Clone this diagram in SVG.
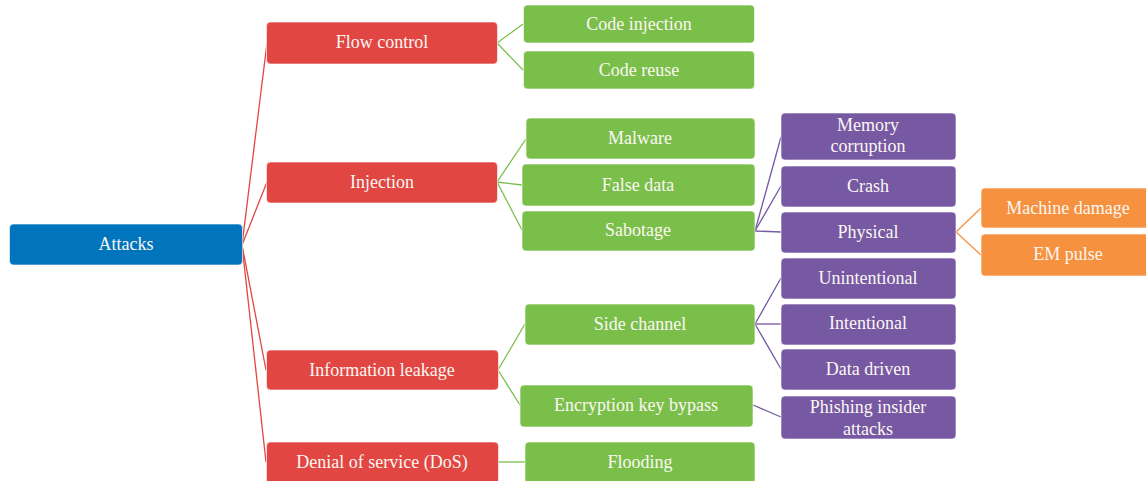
<svg xmlns="http://www.w3.org/2000/svg" width="1146" height="481" viewBox="0 0 1146 481">
<style>
.n rect{stroke:#ffffff;stroke-opacity:0.6;stroke-width:1}
.b rect{fill:#0074BD}
.r rect{fill:#E24642}
.g rect{fill:#7BBF4B}
.p rect{fill:#7658A3}
.o rect{fill:#F5913F}
text{font-family:"Liberation Serif","Times New Roman",serif;font-size:18px;fill:#FBF7F2;text-anchor:middle}
.c line{stroke-width:1.3;fill:none}
.cr line{stroke:#E24642}
.cg line{stroke:#7BBF4B}
.cp line{stroke:#7658A3}
.co line{stroke:#F5913F}
</style>
<rect width="1146" height="481" fill="#ffffff"/>
<g id="connectors" class="c">
<g class="cr">
<line x1="242" y1="245" x2="267" y2="43"/>
<line x1="242" y1="245" x2="267" y2="182"/>
<line x1="242" y1="245" x2="266" y2="370"/>
<line x1="242" y1="245" x2="266" y2="462"/>
</g>
<g class="cg">
<line x1="497" y1="43" x2="523" y2="24"/>
<line x1="497" y1="43" x2="523" y2="70"/>
<line x1="497" y1="182" x2="526" y2="139"/>
<line x1="497" y1="182" x2="522" y2="185"/>
<line x1="497" y1="182" x2="522" y2="230"/>
<line x1="498" y1="370" x2="525" y2="324"/>
<line x1="498" y1="370" x2="520" y2="405"/>
<line x1="498" y1="462" x2="525" y2="462"/>
</g>
<g class="cp">
<line x1="755" y1="231" x2="781" y2="137"/>
<line x1="755" y1="231" x2="781" y2="186"/>
<line x1="755" y1="231" x2="781" y2="232"/>
<line x1="755" y1="324" x2="781" y2="278"/>
<line x1="755" y1="324" x2="781" y2="324"/>
<line x1="755" y1="324" x2="781" y2="369"/>
<line x1="753" y1="405" x2="781" y2="417"/>
</g>
<g class="co">
<line x1="956" y1="232" x2="981" y2="208"/>
<line x1="956" y1="232" x2="981" y2="255"/>
</g>
</g>
<g id="attacks" class="n b"><rect x="9.5" y="224" width="233" height="41" rx="4"/><text x="126" y="250">Attacks</text></g>
<g id="flow-control" class="n r"><rect x="266.5" y="22" width="231" height="42" rx="4"/><text x="382" y="48">Flow control</text></g>
<g id="injection" class="n r"><rect x="266.5" y="162" width="231" height="41" rx="4"/><text x="382" y="188">Injection</text></g>
<g id="information-leakage" class="n r"><rect x="266.5" y="350" width="232" height="40" rx="4"/><text x="382" y="376">Information leakage</text></g>
<g id="dos" class="n r"><rect x="266.5" y="442" width="232" height="42" rx="4"/><text x="382" y="468">Denial of service (DoS)</text></g>
<g id="code-injection" class="n g"><rect x="523.5" y="5" width="231" height="38" rx="4"/><text x="639" y="30">Code injection</text></g>
<g id="code-reuse" class="n g"><rect x="523.5" y="51" width="231" height="38" rx="4"/><text x="639" y="76">Code reuse</text></g>
<g id="malware" class="n g"><rect x="526" y="118" width="229" height="41" rx="4"/><text x="640" y="144">Malware</text></g>
<g id="false-data" class="n g"><rect x="522" y="164" width="233" height="42" rx="4"/><text x="638" y="191">False data</text></g>
<g id="sabotage" class="n g"><rect x="522" y="211" width="233" height="40" rx="4"/><text x="638" y="236">Sabotage</text></g>
<g id="side-channel" class="n g"><rect x="525" y="304" width="230" height="41" rx="4"/><text x="640" y="330">Side channel</text></g>
<g id="encryption-key-bypass" class="n g"><rect x="520" y="385" width="233" height="42" rx="4"/><text x="636" y="411">Encryption key bypass</text></g>
<g id="flooding" class="n g"><rect x="525" y="442" width="230" height="42" rx="4"/><text x="640" y="468">Flooding</text></g>
<g id="memory-corruption" class="n p"><rect x="781" y="113" width="175" height="47" rx="4"/><text x="868" y="131">Memory</text><text x="868" y="152">corruption</text></g>
<g id="crash" class="n p"><rect x="781" y="166" width="175" height="41" rx="4"/><text x="868" y="192">Crash</text></g>
<g id="physical" class="n p"><rect x="781" y="212" width="175" height="41" rx="4"/><text x="868" y="238">Physical</text></g>
<g id="unintentional" class="n p"><rect x="781" y="258" width="175" height="41" rx="4"/><text x="868" y="284">Unintentional</text></g>
<g id="intentional" class="n p"><rect x="781" y="304" width="175" height="41" rx="4"/><text x="868" y="329">Intentional</text></g>
<g id="data-driven" class="n p"><rect x="781" y="349" width="175" height="41" rx="4"/><text x="868" y="375">Data driven</text></g>
<g id="phishing-insider-attacks" class="n p"><rect x="781" y="396" width="175" height="43" rx="4"/><text x="868" y="413">Phishing insider</text><text x="868" y="435">attacks</text></g>
<g id="machine-damage" class="n o"><rect x="981" y="188" width="172" height="40" rx="4"/><text x="1068" y="214">Machine damage</text></g>
<g id="em-pulse" class="n o"><rect x="981" y="234" width="172" height="42" rx="4"/><text x="1068" y="260">EM pulse</text></g>
</svg>
